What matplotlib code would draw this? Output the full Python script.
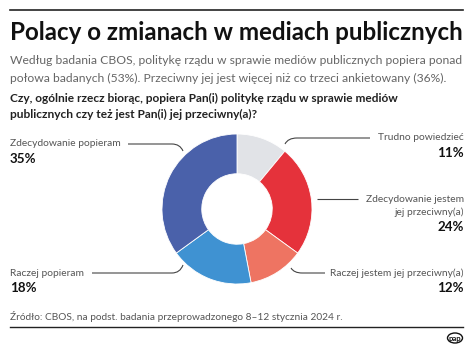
import matplotlib
matplotlib.use("Agg")
import matplotlib.pyplot as plt
from matplotlib.path import Path
from matplotlib.patches import PathPatch, Ellipse

plt.rcParams['font.family'] = ['Lato', 'DejaVu Sans']

# data, clockwise from the top of the ring
labels = ["Trudno powiedzieć", "Zdecydowanie jestem\njej przeciwny(a)",
          "Raczej jestem jej przeciwny(a)", "Raczej popieram", "Zdecydowanie popieram"]
values = [11, 24, 12, 18, 35]
colors = ["#e1e3e7", "#e5323b", "#ee7462", "#3f92d2", "#4a61aa"]

title = "Polacy o zmianach w mediach publicznych"
subtitle = ["Według badania CBOS, politykę rządu w sprawie mediów publicznych popiera ponad",
            "połowa badanych (53%). Przeciwny jej jest więcej niż co trzeci ankietowany (36%)."]
question = ["Czy, ogólnie rzecz biorąc, popiera Pan(i) politykę rządu w sprawie mediów",
            "publicznych czy też jest Pan(i) jej przeciwny(a)?"]
source = "Źródło: CBOS, na podst. badania przeprowadzonego 8–12 stycznia 2024 r."

fig = plt.figure(figsize=(4.74, 3.5), dpi=100)
bg = fig.add_axes([0, 0, 1, 1])
bg.set_xlim(0, 474)
bg.set_ylim(350, 0)
bg.axis('off')
renderer = fig.canvas.get_renderer()


def fit(t, width):
    # shrink/grow a text so it spans the same width (px) as in the original
    w = t.get_window_extent(renderer).width
    t.set_fontsize(t.get_fontsize() * width / w)
    return t


# donut
pie_ax = fig.add_axes([162 / 474, (350 - 284) / 350, 150 / 474, 150 / 350])
pie_ax.pie(values, colors=colors, startangle=90, counterclock=False,
           wedgeprops=dict(width=0.53, edgecolor='white', linewidth=0.6))
pie_ax.set_xlim(-1, 1)
pie_ax.set_ylim(-1, 1)

# header
bg.plot([10, 463], [10, 10], color='#222222', lw=1.2)
fit(bg.text(10, 32, title, fontsize=16, fontweight='bold', color='#111111', va='center'), 453)
s1 = fit(bg.text(10, 61, subtitle[0], fontsize=9, color='#666666', va='center'), 452)
bg.text(10, 78, subtitle[1], fontsize=s1.get_fontsize(), color='#666666', va='center')
q1 = fit(bg.text(10, 98, question[0], fontsize=9, fontweight='bold', color='#222222', va='center'), 390)
bg.text(10, 114, question[1], fontsize=q1.get_fontsize(), fontweight='bold', color='#222222', va='center')


def leader(points, codes):
    bg.add_patch(PathPatch(Path(points, codes), fill=False, edgecolor='#444444', lw=0.8))


M, L, C = Path.MOVETO, Path.LINETO, Path.CURVE3
leader([(128, 144), (172, 144), (180, 144), (183, 151)], [M, L, C, C])
leader([(92, 273), (172, 273), (180, 273), (183, 265)], [M, L, C, C])
leader([(285, 144), (288, 138), (297, 138), (370, 138)], [M, C, C, L])
leader([(317, 199), (358, 199)], [M, L])
leader([(291, 268), (294, 273), (302, 273), (325, 273)], [M, C, C, L])

t = fit(bg.text(10, 144, labels[4], fontsize=8, color='#555555', va='center'), 112)
lab_kw = dict(fontsize=t.get_fontsize(), color='#555555', va='center')
pct_kw = dict(fontsize=9.6, color='#111111', fontweight='bold', va='center')

# left labels
bg.text(10, 159, f"{values[4]}%", ha='left', **pct_kw)
bg.text(10, 273, labels[3], ha='left', **lab_kw)
bg.text(10, 288, f"{values[3]}%", ha='left', **pct_kw)

# right labels
bg.text(464, 138, labels[0], ha='right', **lab_kw)
bg.text(464, 153, f"{values[0]}%", ha='right', **pct_kw)
bg.text(464, 206, labels[1], ha='right', linespacing=1.4, **lab_kw)
bg.text(464, 227, f"{values[1]}%", ha='right', **pct_kw)
bg.text(464, 273, labels[2], ha='right', **lab_kw)
bg.text(464, 288, f"{values[2]}%", ha='right', **pct_kw)

# footer
fit(bg.text(10, 316, source, fontsize=8, color='#555555', va='center'), 333)
bg.plot([10, 463], [327, 327], color='#222222', lw=1.0)
bg.add_patch(Ellipse((455, 338), 15, 10, fill=False, edgecolor='#111111', lw=1.0))
bg.text(455, 338, "pap", fontsize=5.5, fontweight='bold', ha='center', va='center', color='#111111')

fig.savefig("out.png", dpi=100)
